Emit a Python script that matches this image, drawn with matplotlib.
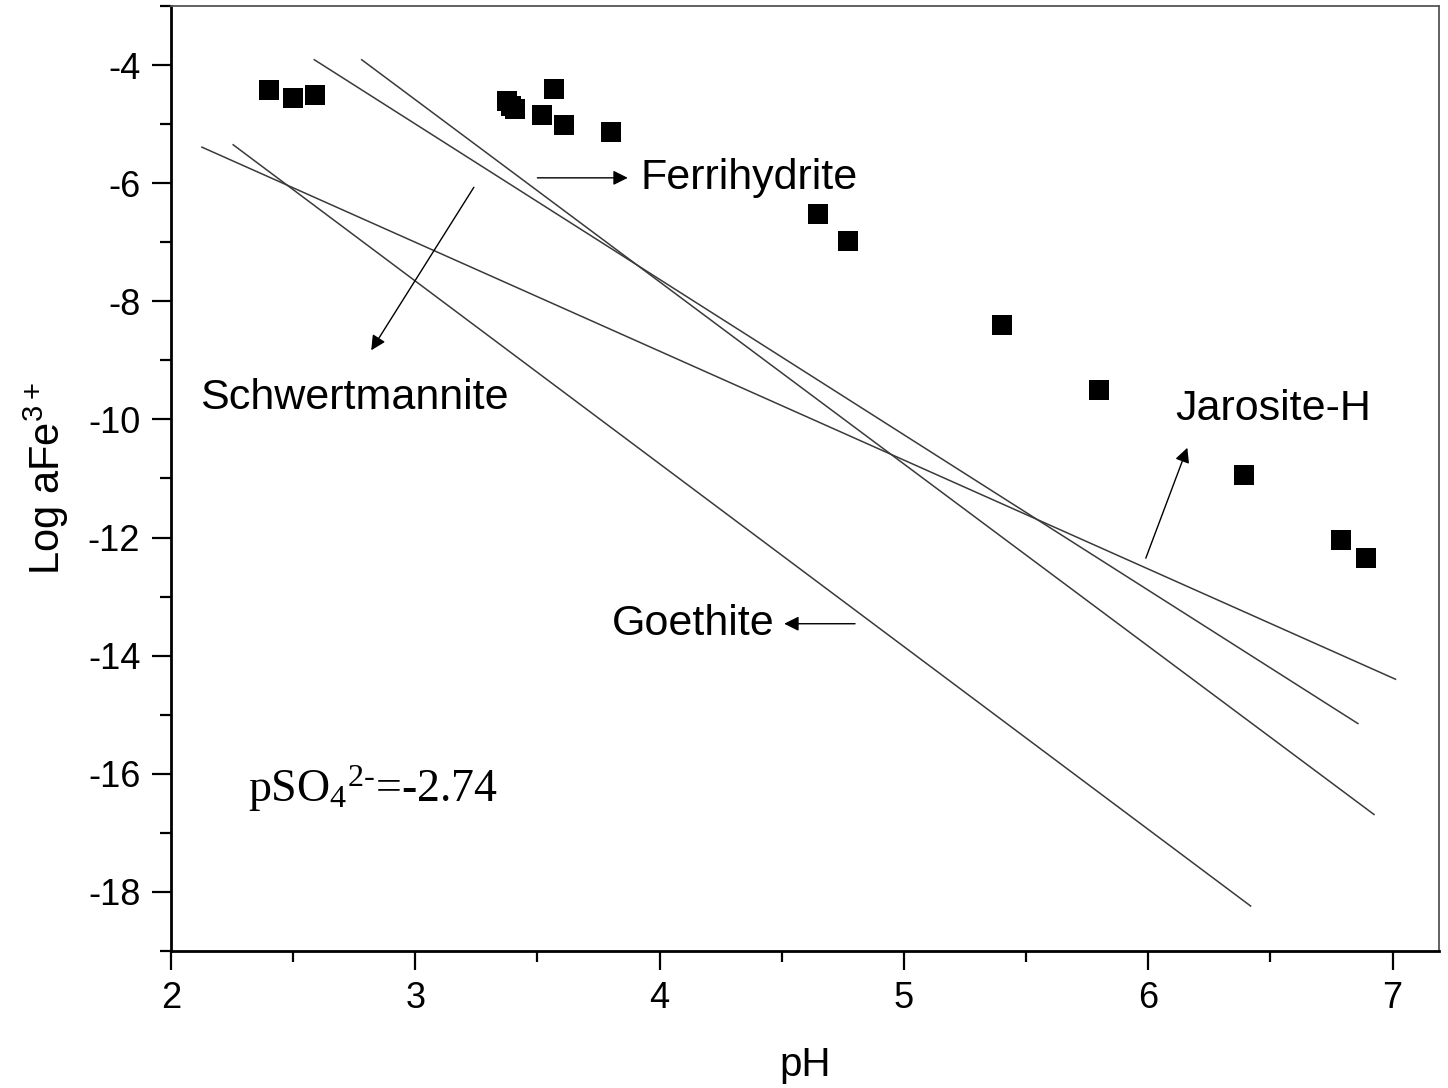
import matplotlib
matplotlib.use('Agg')
import matplotlib.pyplot as plt
from matplotlib.ticker import MultipleLocator

plt.rcParams['font.family'] = ['Liberation Sans', 'DejaVu Sans']
plt.rcParams['mathtext.default'] = 'regular'
plt.rcParams['axes.unicode_minus'] = False

# measured samples
ph = [2.40, 2.50, 2.59, 3.375, 3.39, 3.41, 3.57, 3.52, 3.61, 3.80,
      4.65, 4.77, 5.40, 5.80, 6.39, 6.79, 6.89]
log_fe = [-4.43, -4.55, -4.50, -4.61, -4.69, -4.75, -4.41, -4.85, -5.01, -5.14,
          -6.53, -6.98, -8.41, -9.50, -10.95, -12.05, -12.34]

# equilibrium lines (end points)
jarosite_ph = [2.127, 7.012]
jarosite_fe = [-5.39, -14.40]
schwert_ph = [2.587, 6.858]
schwert_fe = [-3.91, -15.15]
ferri_ph = [2.781, 6.924]
ferri_fe = [-3.91, -16.69]
goethite_ph = [2.255, 6.419]
goethite_fe = [-5.35, -18.24]

fig = plt.figure(figsize=(14.48, 10.88), dpi=100)
ax = fig.add_axes([0.118, 0.126, 0.8758, 0.8685])

for xs, ys in [(jarosite_ph, jarosite_fe), (schwert_ph, schwert_fe),
               (ferri_ph, ferri_fe), (goethite_ph, goethite_fe)]:
    ax.plot(xs, ys, color='#3a3a3a', lw=1.1)

ax.plot(ph, log_fe, 's', color='black', markersize=14, markeredgewidth=0)

ax.set_xlim(2, 7.19)
ax.set_ylim(-19, -3)
ax.xaxis.set_major_locator(MultipleLocator(1))
ax.xaxis.set_minor_locator(MultipleLocator(0.5))
ax.yaxis.set_minor_locator(MultipleLocator(1))
ax.set_yticks(range(-18, -3, 2))
ax.tick_params(which='major', direction='out', length=14, width=1.6,
               labelsize=26, pad=8, top=False, right=False)
ax.tick_params(which='minor', direction='out', length=8, width=1.6,
               top=False, right=False)
for s in ['left', 'bottom']:
    ax.spines[s].set_linewidth(2.0)
for s in ['top', 'right']:
    ax.spines[s].set_linewidth(1.3)
    ax.spines[s].set_color('#555555')

ax.set_xlabel('pH', fontsize=29, labelpad=21)
ax.set_ylabel('Log aFe$^{3+}$', fontsize=30, labelpad=12)

arrow = dict(arrowstyle='-|>', color='black', lw=1.0,
             mutation_scale=22, shrinkA=0, shrinkB=0)
tsize = 31

ax.text(3.92, -5.91, 'Ferrihydrite', fontsize=tsize, va='center', ha='left')
ax.annotate('', xy=(3.87, -5.91), xytext=(3.50, -5.91), arrowprops=arrow)

ax.text(2.12, -9.63, 'Schwertmannite', fontsize=tsize, va='center', ha='left')
ax.annotate('', xy=(2.82, -8.83), xytext=(3.24, -6.07), arrowprops=arrow)

ax.text(3.806, -13.46, 'Goethite', fontsize=tsize, va='center', ha='left')
ax.annotate('', xy=(4.51, -13.46), xytext=(4.80, -13.46), arrowprops=arrow)

ax.text(6.11, -9.82, 'Jarosite-H', fontsize=tsize, va='center', ha='left')
ax.annotate('', xy=(6.16, -10.48), xytext=(5.99, -12.35), arrowprops=arrow)

ax.text(2.315, -16.25, 'pSO$_4$$^{2\u2010}$=-2.74', fontsize=33, va='center', ha='left',
        family=['Liberation Serif', 'DejaVu Serif'])

fig.savefig('out.png', dpi=100, facecolor='white')
